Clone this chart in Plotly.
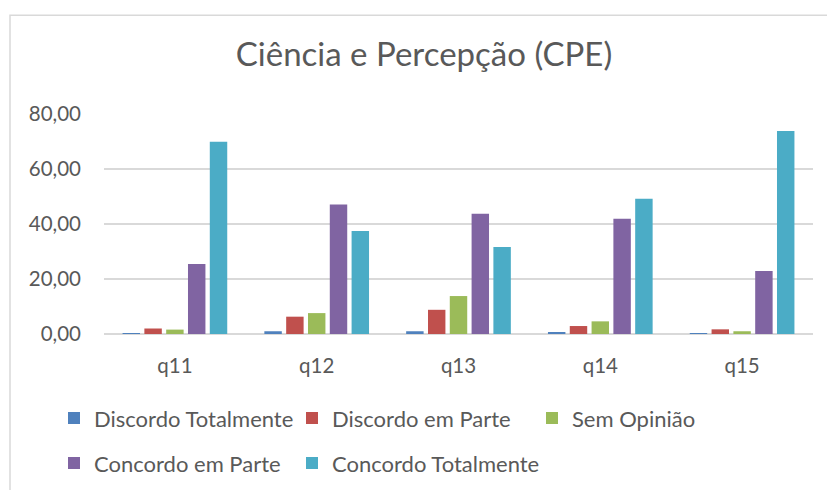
import plotly.graph_objects as go

categories = ["q11", "q12", "q13", "q14", "q15"]
series_names = ["Discordo Totalmente", "Discordo em Parte", "Sem Opinião",
                "Concordo em Parte", "Concordo Totalmente"]
discordo_totalmente = [0.2, 1.0, 1.0, 0.5, 0.1]
discordo_parte = [2.0, 6.3, 8.8, 2.9, 1.7]
sem_opiniao = [1.6, 7.6, 13.8, 4.6, 1.0]
concordo_parte = [25.5, 47.1, 43.7, 41.9, 22.9]
concordo_totalmente = [69.9, 37.5, 31.6, 49.2, 73.8]
y_ticks = [0, 20, 40, 60, 80]
y_tick_labels = ["0,00", "20,00", "40,00", "60,00", "80,00"]

values = [discordo_totalmente, discordo_parte, sem_opiniao, concordo_parte, concordo_totalmente]
colors = ["#4F81BD", "#C0504D", "#9BBB59", "#8064A2", "#4BACC6"]
legend_ids = ["legend", "legend2", "legend3", "legend4", "legend5"]
# legend slot (pixel left, pixel centre-y) for each entry
legend_slots = [(54, 419), (292, 419), (532, 419), (54, 464), (292, 464)]

FONT = "Lato"
TXT = "#595959"

W, H = 827, 490
L, R, T, B = 104, 14, 114, 155.5
pw = W - L - R
ph = H - T - B

fig = go.Figure()
for name, vals, col, lg in zip(series_names, values, colors, legend_ids):
    fig.add_trace(go.Bar(
        x=categories, y=vals, name=name,
        marker=dict(color=col, line=dict(width=0)),
        legend=lg,
    ))

def px_x(px):
    return (px - L) / pw

def px_y(py):
    return (H - B - py) / ph

legend_common = dict(
    orientation="h", xanchor="left", yanchor="middle",
    font=dict(family=FONT, size=22, color=TXT),
    itemwidth=30, bgcolor="rgba(0,0,0,0)",
)
legends = {lg: dict(x=px_x(sx), y=px_y(sy), **legend_common)
           for lg, (sx, sy) in zip(legend_ids, legend_slots)}

fig.update_layout(
    width=W, height=H,
    margin=dict(l=L, r=R, t=T, b=B, autoexpand=False),
    paper_bgcolor="white", plot_bgcolor="white",
    barmode="group", bargap=0.231, bargroupgap=0.2,
    title=dict(text="Ciência e Percepção (CPE)",
               font=dict(family=FONT, size=33, color=TXT),
               x=424 / W, xref="container", xanchor="center",
               y=1 - 54 / H, yref="container", yanchor="middle"),
    xaxis=dict(showgrid=False, showline=False, ticks="",
               tickfont=dict(family=FONT, size=20.5, color=TXT),
               ticklabelstandoff=17),
    yaxis=dict(range=[0, 80], tickvals=y_ticks, ticktext=y_tick_labels,
               showgrid=True, gridcolor="#d9d9d9", gridwidth=1.5,
               zeroline=True, zerolinecolor="#d9d9d9", zerolinewidth=1.5,
               showline=False, ticks="",
               tickfont=dict(family=FONT, size=20.5, color=TXT),
               ticklabelstandoff=22),
    showlegend=True,
    shapes=[dict(type="rect", xref="paper", yref="paper",
                 x0=px_x(10), x1=px_x(840), y0=px_y(500), y1=px_y(15),
                 line=dict(color="#d9d9d9", width=1.5), fillcolor="rgba(0,0,0,0)",
                 layer="below")],
    **legends,
)

fig.write_html("out.html", config={"displayModeBar": False},
               post_script="document.body.style.margin='0';document.body.style.overflow='hidden';")
